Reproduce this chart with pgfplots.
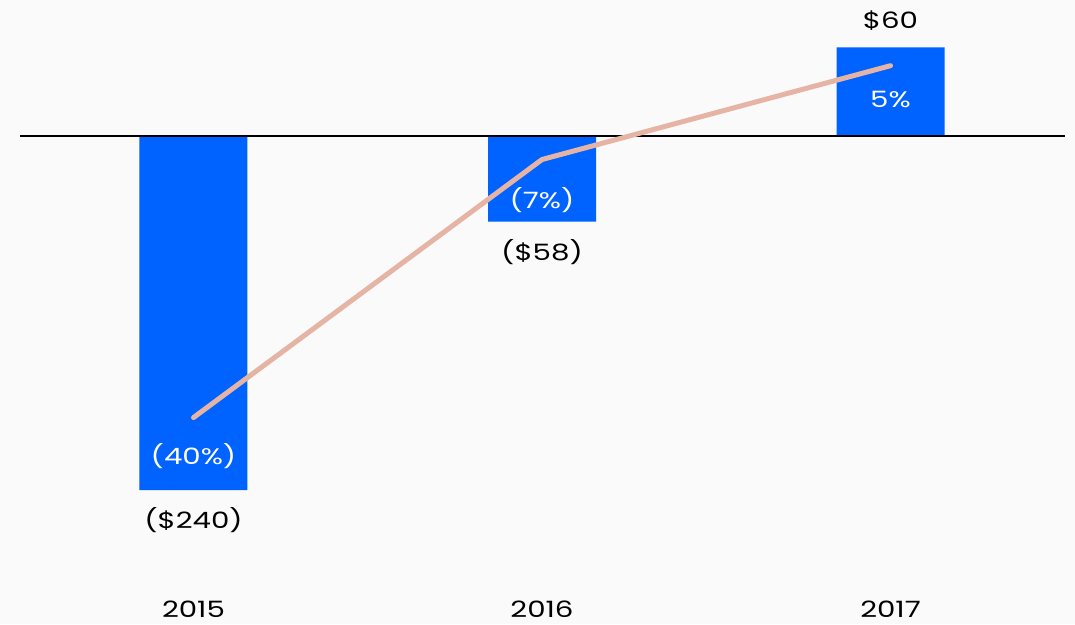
\documentclass[border=0pt]{standalone}
\usepackage{pgfplots}
\pgfplotsset{compat=1.18}
\usepackage{fontspec}
\setmainfont{Poppins}[FakeStretch=1.3]
\definecolor{bg}{HTML}{FAFAFA}
\definecolor{barblue}{HTML}{0062FF}
\definecolor{salmon}{HTML}{E6B4A4}
\begin{document}
\begin{tikzpicture}[x=1pt,y=1pt]
\fill[bg] (0,0) rectangle (1075,624);
\begin{axis}[
  at={(0,0)}, anchor=south west,
  scale only axis, width=1075pt, height=624pt,
  xmin=-0.5552, xmax=2.5294,
  ymin=-330.8, ymax=92.2,
  axis lines=none,
  clip=false,
]
\addplot[ybar, bar width=108pt, fill=barblue, draw=none] coordinates {(0,-240) (1,-58) (2,60)};
\draw[black, line width=1.2pt] (axis cs:-0.498,0) -- (axis cs:2.501,0);
\tikzset{lab/.style={font=\fontsize{22.5}{26}\selectfont}}
\node[lab] at (axis cs:0,-260.4) {(\$240)};
\node[lab] at (axis cs:1,-78.6) {(\$58)};
\node[lab] at (axis cs:2,78) {\$60};
\node[lab, text=white] at (axis cs:0,-217) {(40\%)};
\node[lab, text=white] at (axis cs:1,-43.4) {(7\%)};
\node[lab, text=white] at (axis cs:2,25) {5\%};
\node[lab, inner sep=0pt, anchor=base] at (axis cs:0,-326.5) {2015};
\node[lab, inner sep=0pt, anchor=base] at (axis cs:1,-326.5) {2016};
\node[lab, inner sep=0pt, anchor=base] at (axis cs:2,-326.5) {2017};
\end{axis}
\begin{axis}[
  at={(0,0)}, anchor=south west,
  scale only axis, width=1075pt, height=624pt,
  xmin=-0.5552, xmax=2.5294,
  ymin=-66.4, ymax=13.4,
  axis lines=none,
]
\addplot[salmon, line width=5pt, line cap=round, line join=round] coordinates {(0,-40) (1,-7) (2,5)};
\end{axis}
\end{tikzpicture}
\end{document}
